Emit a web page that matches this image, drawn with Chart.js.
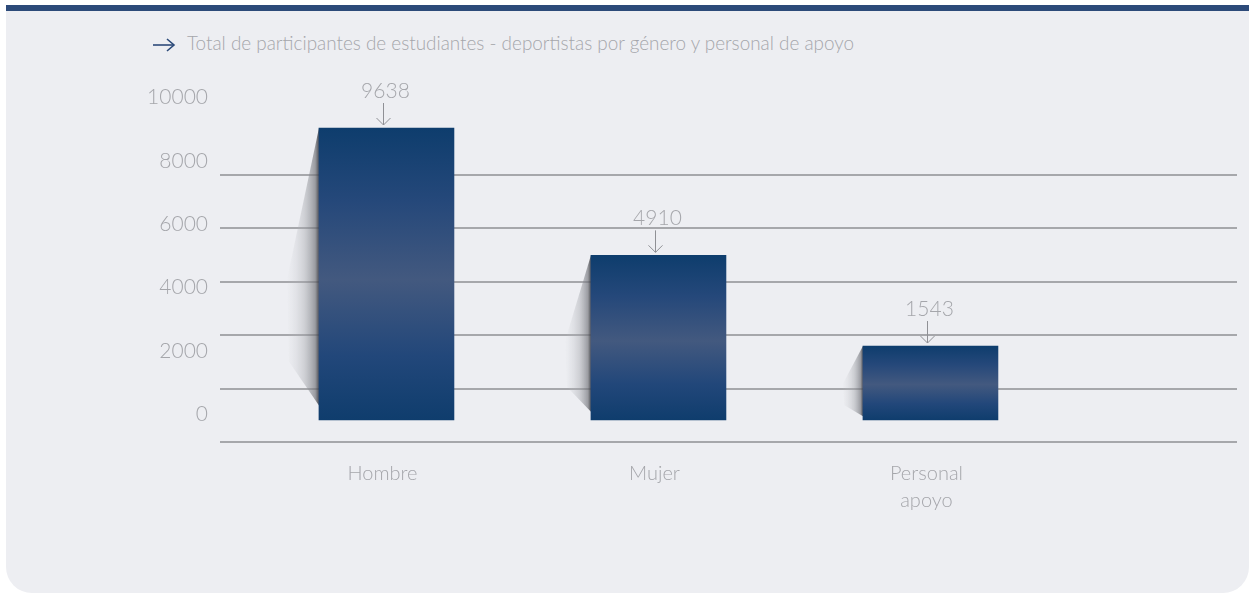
<!DOCTYPE html>
<html lang="es">
<head>
<meta charset="utf-8">
<title>Participantes por género</title>
<script src="https://cdn.jsdelivr.net/npm/chart.js@4.4.1/dist/chart.umd.min.js"></script>
<style>
    html, body {
        margin: 0;
        padding: 0;
        width: 1249px;
        height: 594px;
        overflow: hidden;
        background: #ffffff;
        font-family: Lato, 'Open Sans', sans-serif;
    }
    .card {
        position: absolute;
        left: 6px;
        top: 5px;
        width: 1243px;
        height: 588px;
        box-sizing: border-box;
        background: #edeef2;
        border-top: 6px solid #2c4a79;
        border-radius: 0 0 26px 26px;
    }
    .titulo {
        position: absolute;
        left: 152px;
        top: 31px;
        font-size: 18.9px;
        font-weight: 300;
        color: #a5a6ab;
        white-space: nowrap;
    }
    .titulo svg {
        vertical-align: -2px;
        margin-right: 11px;
    }
    .grafico {
        position: absolute;
        left: 0;
        top: 0;
        width: 1249px;
        height: 594px;
    }
</style>
</head>
<body>
<div class="card"></div>
<div class="titulo">
    <svg width="24" height="14" viewBox="0 0 24 14">
        <line x1="1" y1="7" x2="22" y2="7" stroke="#2c4a79" stroke-width="1.6"/>
        <polyline points="15,1 22,7 15,13" fill="none" stroke="#2c4a79" stroke-width="1.6"/>
    </svg>Total de participantes de estudiantes - deportistas por género y personal de apoyo
</div>
<div class="grafico"><canvas id="participantesChart"></canvas></div>

<script>
// Datos
const categorias = ['Hombre', 'Mujer', ['Personal', 'apoyo']];
const participantes = [9638, 4910, 1543];
const ticksEje = [0, 2000, 4000, 6000, 8000, 10000];
const lineasGuia = [0, 1, 2, 3, 4, 5];

const colorTexto = '#a5a6ab';

// degradado vertical de cada barra
function degradadoBarra(ctx) {
    const chart = ctx.chart;
    const y = chart.scales.y;
    if (!chart.chartArea || !y || ctx.parsed === undefined) return '#1f4673';
    const top = y.getPixelForValue(ctx.parsed.y);
    const base = y.getPixelForValue(ctx.dataset.base);
    const g = chart.ctx.createLinearGradient(0, top, 0, base);
    g.addColorStop(0, '#0e3d6d');
    g.addColorStop(0.25, '#25487a');
    g.addColorStop(0.52, '#43597f');
    g.addColorStop(0.78, '#22477a');
    g.addColorStop(1, '#0f3d6d');
    return g;
}

// sombra tipo "papel levantado" a la izquierda de las barras
const sombraBarras = {
    id: 'sombraBarras',
    beforeDatasetsDraw(chart) {
        const ctx = chart.ctx;
        chart.getDatasetMeta(0).data.forEach((bar) => {
            const x0 = bar.x - bar.width / 2;
            const top = bar.y;
            const h = bar.base - bar.y;
            const w = Math.min(32, 16 + h * 0.06);
            const g = ctx.createLinearGradient(x0 - w, 0, x0, 0);
            g.addColorStop(0, 'rgba(200,202,208,0)');
            g.addColorStop(0.55, 'rgba(160,162,168,0.4)');
            g.addColorStop(0.88, 'rgba(110,112,118,0.65)');
            g.addColorStop(1, 'rgba(60,60,66,0.9)');
            ctx.save();
            ctx.beginPath();
            ctx.moveTo(x0, top);
            ctx.lineTo(x0 - w, top + h * 0.52);
            ctx.lineTo(x0 - w + 2, top + h * 0.8);
            ctx.lineTo(x0, top + h * 0.95);
            ctx.closePath();
            ctx.fillStyle = g;
            ctx.fill();
            ctx.restore();
        });
    }
};

// valor y flecha encima de cada barra
const valoresBarras = {
    id: 'valoresBarras',
    afterDatasetsDraw(chart) {
        const ctx = chart.ctx;
        const meta = chart.getDatasetMeta(0);
        ctx.save();
        ctx.font = '300 21px Lato, "Open Sans", sans-serif';
        ctx.fillStyle = colorTexto;
        ctx.strokeStyle = '#8f9095';
        ctx.lineWidth = 1;
        ctx.textAlign = 'center';
        ctx.textBaseline = 'middle';
        meta.data.forEach((bar, i) => {
            const x = Math.round(bar.x) - 2.5;
            ctx.fillText(String(participantes[i]), bar.x - 1, bar.y - 37);
            ctx.beginPath();
            ctx.moveTo(x, bar.y - 25);
            ctx.lineTo(x, bar.y - 3);
            ctx.moveTo(x - 7, bar.y - 10);
            ctx.lineTo(x, bar.y - 3);
            ctx.lineTo(x + 7, bar.y - 10);
            ctx.stroke();
        });
        ctx.restore();
    }
};

new Chart(
    document.getElementById('participantesChart'),
    {
        type: 'bar',
        data: {
            datasets: [{
                label: 'Participantes',
                data: participantes.map((v, i) => ({ x: i + 1, y: v })),
                backgroundColor: degradadoBarra,
                borderWidth: 0,
                barThickness: 135,
                // las barras del original arrancan por debajo de la línea del cero
                base: -1203,
                yAxisID: 'y',
                xAxisID: 'x'
            }]
        },
        options: {
            responsive: true,
            maintainAspectRatio: false,
            animation: false,
            layout: {
                padding: { top: 60, right: 12, bottom: 52, left: 0 }
            },
            plugins: {
                legend: { display: false },
                tooltip: { enabled: false }
            },
            scales: {
                x: {
                    type: 'linear',
                    offset: false,
                    min: 0.388,
                    max: 4.127,
                    afterBuildTicks: (s) => { s.ticks = categorias.map((c, i) => ({ value: i + 1 })); },
                    afterFit: (s) => { s.height = 100; },
                    grid: { display: false, drawTicks: false, offset: false },
                    border: { display: false },
                    ticks: {
                        callback: (v) => categorias[v - 1] ?? '',
                        color: colorTexto,
                        font: { family: 'Lato', size: 20, weight: '300', lineHeight: 1.35 },
                        padding: 18,
                        labelOffset: -4,
                        maxRotation: 0,
                        autoSkip: false
                    }
                },
                y: {
                    type: 'linear',
                    display: false,
                    min: -2020,
                    max: 12163
                },
                yEtiquetas: {
                    type: 'linear',
                    position: 'left',
                    min: -878,
                    max: 11184,
                    afterBuildTicks: (s) => { s.ticks = ticksEje.map((v) => ({ value: v })); },
                    afterFit: (s) => { s.width = 220; },
                    grid: { display: false, drawTicks: false },
                    border: { display: false },
                    ticks: {
                        color: colorTexto,
                        font: { family: 'Lato', size: 21, weight: '300' },
                        padding: 12,
                        callback: (v) => String(v)
                    }
                },
                yGuia: {
                    type: 'linear',
                    position: 'right',
                    min: 0,
                    max: 7.1536,
                    afterBuildTicks: (s) => { s.ticks = lineasGuia.map((v) => ({ value: v })); },
                    afterFit: (s) => { s.width = 0; },
                    grid: { color: '#a6a7ab', lineWidth: 2, drawTicks: false },
                    border: { display: false },
                    ticks: { display: false }
                }
            }
        },
        plugins: [sombraBarras, valoresBarras]
    }
);
</script>
</body>
</html>
